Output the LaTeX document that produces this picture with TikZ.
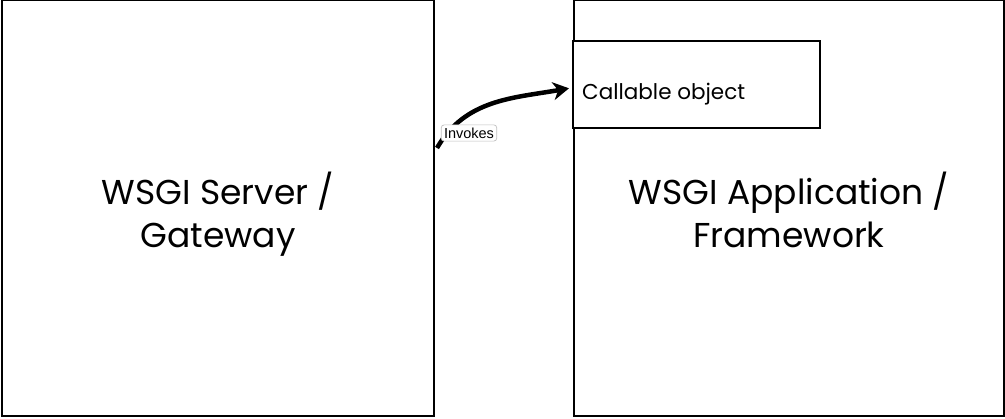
\documentclass[tikz,border=0pt]{standalone}
\usepackage{fontspec}
\setmainfont{Poppins}
\newfontfamily\labelfont{Liberation Sans}
\usetikzlibrary{arrows.meta}
\begin{document}
\begin{tikzpicture}[x=1pt,y=1pt,
  bigbox/.style={draw=black,line width=2pt,fill=white},
  callbox/.style={draw=black,line width=2.4pt,fill=white,minimum width=247pt,minimum height=87pt,inner sep=0pt},
  bigtext/.style={font=\fontsize{34.5}{43}\selectfont,align=center,text=black,anchor=base,inner sep=0pt},
  tag/.style={draw=black!25,rounded corners=3pt,fill=white,font=\labelfont\fontsize{14.5}{16}\selectfont,inner sep=2.8pt,line width=0.7pt},
  link/.style={line width=4.5pt,-{Stealth[length=16pt,width=18pt,inset=5pt]}}]
\useasboundingbox (0,0) rectangle (1005,419);
\node[bigbox,minimum width=432pt,minimum height=416pt,inner sep=0pt,anchor=south west] (server) at (1,2) {};
\node[bigbox,minimum width=430pt,minimum height=416pt,inner sep=0pt,anchor=south west] (app) at (573,2) {};
\node[callbox,anchor=south west] (call) at (572,290) {};
\node[anchor=base west,font=\fontsize{21.5}{24}\selectfont,inner sep=0pt] (calltext) at (582,319) {Callable object};
\node[bigtext] (servertext) at (218,171) {WSGI Server /\\Gateway};
\node[bigtext] (apptext) at (789,171) {WSGI Application /\\Framework};
\coordinate (start) at (437,271);
\draw[link] (start) to[out=60,in=190] ([xshift=-3pt,yshift=-4pt]call.west);
\node[tag] (invokes) at (469,286) {Invokes};
\end{tikzpicture}
\end{document}
